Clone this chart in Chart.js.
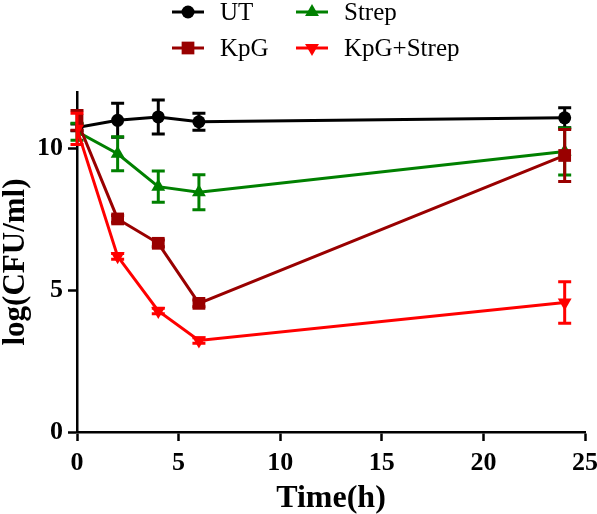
<!DOCTYPE html>
<html>
<head>
  <meta charset="utf-8">
  <title>log(CFU/ml) over time</title>
  <script src="https://cdn.jsdelivr.net/npm/chart.js@4/dist/chart.umd.min.js"></script>
  <style>
    html, body { margin: 0; padding: 0; background: #fff; }
    #wrap { width: 597px; height: 514px; position: relative; }
  </style>
</head>
<body>
  <div id="wrap"><canvas id="chart"></canvas></div>
  <script>
    // time points (h)
    var times = [0, 2, 4, 6, 24];

    // means and SD
    var utMean = [10.75, 11.0, 11.12, 10.95, 11.09];
    var utErr = [0.12, 0.6, 0.6, 0.3, 0.35];
    var strepMean = [10.6, 9.82, 8.66, 8.46, 9.9];
    var strepErr = [0.3, 0.6, 0.55, 0.62, 0.83];
    var kpgMean = [11.0, 7.52, 6.66, 4.54, 9.76];
    var kpgErr = [0.35, 0.12, 0.12, 0.12, 0.92];
    var comboMean = [10.7, 6.2, 4.27, 3.23, 4.57];
    var comboErr = [0.55, 0.1, 0.1, 0.1, 0.73];

    var yTicks = [0, 5, 10];

    var serif = "'Liberation Serif', 'Times New Roman', serif";

    function pts(means) {
      return times.map(function (t, i) { return { x: t, y: means[i] }; });
    }

    var series = [
      { label: 'UT', data: utMean, err: utErr, color: '#000000', style: 'circle', radius: 6.5, rot: 0, order: 4 },
      { label: 'Strep', data: strepMean, err: strepErr, color: '#008000', style: 'triangle', radius: 8, rot: 0, order: 3 },
      { label: 'KpG', data: kpgMean, err: kpgErr, color: '#990000', style: 'rect', radius: 9, rot: 0, order: 2 },
      { label: 'KpG+Strep', data: comboMean, err: comboErr, color: '#ff0000', style: 'triangle', radius: 8, rot: 180, order: 1 }
    ];

    // error bars, drawn with each dataset
    var errorBars = {
      id: 'errorBars',
      afterDatasetDraw: function (chart, args) {
        var ds = chart.data.datasets[args.index];
        var ctx = chart.ctx;
        var ys = chart.scales.y;
        ctx.save();
        ctx.strokeStyle = ds.borderColor;
        ctx.lineWidth = 3;
        args.meta.data.forEach(function (p, i) {
          var v = ds.data[i].y, e = ds.errs[i];
          var top = ys.getPixelForValue(v + e), bot = ys.getPixelForValue(v - e);
          ctx.beginPath();
          ctx.moveTo(p.x, top); ctx.lineTo(p.x, bot);
          ctx.moveTo(p.x - 6.5, top); ctx.lineTo(p.x + 6.5, top);
          ctx.moveTo(p.x - 6.5, bot); ctx.lineTo(p.x + 6.5, bot);
          ctx.stroke();
        });
        ctx.restore();
      }
    };

    // two-column legend at the top
    var legendPos = [[188, 12], [312, 12], [188, 48], [312, 48]];
    var topLegend = {
      id: 'topLegend',
      afterDraw: function (chart) {
        var ctx = chart.ctx;
        ctx.save();
        ctx.font = "25px " + serif;
        ctx.textBaseline = 'middle';
        ctx.textAlign = 'left';
        series.forEach(function (s, j) {
          var cx = legendPos[j][0], cy = legendPos[j][1];
          ctx.strokeStyle = s.color;
          ctx.fillStyle = s.color;
          ctx.lineWidth = 3;
          ctx.beginPath();
          ctx.moveTo(cx - 16, cy); ctx.lineTo(cx + 16, cy);
          ctx.stroke();
          Chart.helpers.drawPoint(ctx, { pointStyle: s.style, radius: s.radius, rotation: s.rot, borderWidth: 0 }, cx, cy);
          ctx.fillStyle = '#000';
          ctx.fillText(s.label, cx + 32, cy + 1);
        });
        ctx.restore();
      }
    };

    var chart = new Chart(document.getElementById('chart'), {
      type: 'line',
      data: {
        datasets: series.map(function (s) {
          return {
            label: s.label,
            data: pts(s.data),
            errs: s.err,
            borderColor: s.color,
            backgroundColor: s.color,
            borderWidth: 3,
            pointStyle: s.style,
            pointRadius: s.radius,
            pointRotation: s.rot,
            pointBorderWidth: 0,
            pointHoverRadius: s.radius,
            tension: 0,
            order: s.order
          };
        })
      },
      options: {
        responsive: true,
        maintainAspectRatio: false,
        animation: false,
        events: [],
        layout: { padding: { top: 92, right: 12, left: 0, bottom: 0 } },
        plugins: { legend: { display: false }, tooltip: { enabled: false } },
        scales: {
          x: {
            type: 'linear',
            min: 0, max: 25,
            afterFit: function (s) { s.height = 82; s.paddingLeft = 0; s.paddingRight = 0; },
            grid: { drawOnChartArea: false, drawTicks: true, tickLength: 9, tickWidth: 2.5, color: '#000' },
            border: { display: true, width: 2.5, color: '#000' },
            ticks: { stepSize: 5, color: '#000', padding: 7, font: { family: serif, size: 26, weight: 'bold' } },
            title: { display: true, text: 'Time(h)', color: '#000', padding: { top: 0, bottom: -4 }, font: { family: serif, size: 32, weight: 'bold' } }
          },
          y: {
            min: 0, max: 12,
            afterFit: function (s) { s.width = 77; s.paddingTop = 0; s.paddingBottom = 0; },
            afterBuildTicks: function (s) { s.ticks = yTicks.map(function (v) { return { value: v }; }); },
            grid: { drawOnChartArea: false, drawTicks: true, tickLength: 9, tickWidth: 2.5, color: '#000' },
            border: { display: true, width: 2.5, color: '#000' },
            ticks: { color: '#000', padding: 5, font: { family: serif, size: 26, weight: 'bold' } },
            title: { display: true, text: 'log(CFU/ml)', color: '#000', padding: { top: -3, bottom: 0 }, font: { family: serif, size: 31, weight: 'bold' } }
          }
        }
      },
      plugins: [errorBars, topLegend]
    });
  </script>
</body>
</html>
